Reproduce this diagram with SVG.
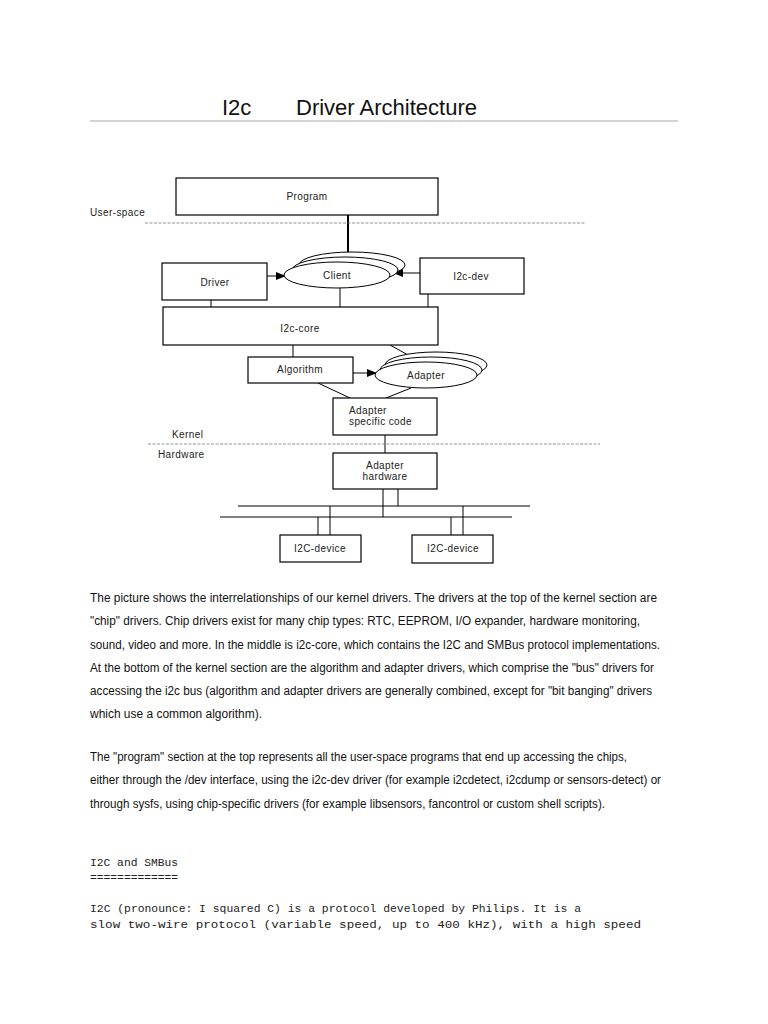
<svg xmlns="http://www.w3.org/2000/svg" width="768" height="1024" viewBox="0 0 768 1024">
<defs>
<marker id="ah" markerWidth="10" markerHeight="8" refX="9" refY="4" orient="auto" markerUnits="userSpaceOnUse">
<path d="M0,0 L10,4 L0,8 Z" fill="#000"/>
</marker>
<style>
.box{fill:#fff;stroke:#000;stroke-width:1.2}
.ell{fill:#fff;stroke:#000;stroke-width:1}
.lbl{font-family:"Liberation Sans",Arial,sans-serif;font-size:10px;fill:#222;letter-spacing:0.4px}
.ln{stroke:#000;stroke-width:1;fill:none}
.thick{stroke:#000;stroke-width:2;fill:none}
.dash{stroke:#777;stroke-width:0.8;stroke-dasharray:3,1.5;fill:none}
.body{font-family:"Liberation Sans",Arial,sans-serif;font-size:12.5px;fill:#111}
.mono{font-family:"Liberation Mono","Courier New",monospace;font-size:11.3px;fill:#222}
.title{font-family:"Liberation Sans",Arial,sans-serif;font-size:22px;fill:#111}
</style>
</defs>
<rect width="768" height="1024" fill="#fff"/>

<g id="title">
<text class="title" x="222" y="115">I2c</text>
<text class="title" x="296" y="115">Driver Architecture</text>
<line x1="90" y1="121" x2="678" y2="121" stroke="#aaa" stroke-width="1"/>
</g>

<g id="connectors">
<line class="thick" x1="348" y1="215" x2="348" y2="252"/>
<line class="ln" x1="267" y1="276" x2="285" y2="276" marker-end="url(#ah)"/>
<line class="ln" x1="420" y1="273" x2="394" y2="273" marker-end="url(#ah)"/>
<line class="ln" x1="211" y1="300" x2="211" y2="307"/>
<line class="ln" x1="340" y1="288" x2="340" y2="307"/>
<line class="ln" x1="428" y1="294" x2="428" y2="307"/>
<line class="ln" x1="293" y1="345" x2="293" y2="357"/>
<line class="ln" x1="390" y1="345" x2="408" y2="355"/>
<line class="ln" x1="353" y1="373" x2="376" y2="373" marker-end="url(#ah)"/>
<line class="ln" x1="318" y1="383" x2="350" y2="398"/>
<line class="ln" x1="411" y1="388" x2="386" y2="398"/>
<line class="ln" x1="385" y1="435" x2="385" y2="453"/>
<line class="ln" x1="383" y1="489" x2="383" y2="517"/>
<line class="ln" x1="398" y1="489" x2="398" y2="506"/>
<line class="ln" x1="238" y1="506" x2="530" y2="506"/>
<line class="ln" x1="220" y1="517" x2="512" y2="517"/>
<line class="ln" x1="318" y1="517" x2="318" y2="535"/>
<line class="ln" x1="330" y1="506" x2="330" y2="535"/>
<line class="ln" x1="451" y1="517" x2="451" y2="535"/>
<line class="ln" x1="463" y1="506" x2="463" y2="535"/>
</g>

<g id="zones">
<text class="lbl" x="90" y="216">User-space</text>
<line class="dash" x1="145" y1="223" x2="585" y2="223"/>
<text class="lbl" x="172" y="438">Kernel</text>
<line class="dash" x1="148" y1="444" x2="600" y2="444"/>
<text class="lbl" x="158" y="458">Hardware</text>
</g>

<g id="program">
<rect class="box" x="176" y="178" width="262" height="37"/>
<text class="lbl" x="307" y="200" text-anchor="middle">Program</text>
</g>

<g id="client">
<ellipse class="ell" cx="352" cy="265" rx="53" ry="13"/>
<ellipse class="ell" cx="345" cy="270" rx="53" ry="13"/>
<ellipse class="ell" cx="337" cy="275" rx="53" ry="13"/>
<text class="lbl" x="337" y="279" text-anchor="middle">Client</text>
</g>

<g id="driver">
<rect class="box" x="162" y="263" width="105" height="37"/>
<text class="lbl" x="215" y="286" text-anchor="middle">Driver</text>
</g>

<g id="i2c-dev">
<rect class="box" x="420" y="258" width="104" height="36"/>
<text class="lbl" x="471" y="280" text-anchor="middle">I2c-dev</text>
</g>

<g id="i2c-core">
<rect class="box" x="163" y="307" width="275" height="38"/>
<text class="lbl" x="300" y="332" text-anchor="middle">I2c-core</text>
</g>

<g id="algorithm">
<rect class="box" x="248" y="357" width="105" height="26"/>
<text class="lbl" x="300" y="373" text-anchor="middle">Algorithm</text>
</g>

<g id="adapter">
<ellipse class="ell" cx="436" cy="365" rx="51" ry="13"/>
<ellipse class="ell" cx="431" cy="370" rx="51" ry="13"/>
<ellipse class="ell" cx="426" cy="375" rx="51" ry="13"/>
<text class="lbl" x="426" y="379" text-anchor="middle">Adapter</text>
</g>

<g id="adapter-specific-code">
<rect class="box" x="333" y="398" width="104" height="37"/>
<text class="lbl" x="349" y="414">Adapter</text>
<text class="lbl" x="349" y="425">specific code</text>
</g>

<g id="adapter-hardware">
<rect class="box" x="333" y="453" width="104" height="36"/>
<text class="lbl" x="385" y="469" text-anchor="middle">Adapter</text>
<text class="lbl" x="385" y="480" text-anchor="middle">hardware</text>
</g>

<g id="i2c-device-1">
<rect class="box" x="280" y="535" width="81" height="27"/>
<text class="lbl" x="320" y="552" text-anchor="middle">I2C-device</text>
</g>

<g id="i2c-device-2">
<rect class="box" x="412" y="535" width="81" height="28"/>
<text class="lbl" x="453" y="552" text-anchor="middle">I2C-device</text>
</g>

<g id="text">
<text class="body" x="90" y="602" textLength="567" lengthAdjust="spacingAndGlyphs">The picture shows the interrelationships of our kernel drivers. The drivers at the top of the kernel section are</text>
<text class="body" x="90" y="625" textLength="550" lengthAdjust="spacingAndGlyphs">"chip" drivers. Chip drivers exist for many chip types: RTC, EEPROM, I/O expander, hardware monitoring,</text>
<text class="body" x="90" y="649" textLength="570" lengthAdjust="spacingAndGlyphs">sound, video and more. In the middle is i2c-core, which contains the I2C and SMBus protocol implementations.</text>
<text class="body" x="90" y="672" textLength="564" lengthAdjust="spacingAndGlyphs">At the bottom of the kernel section are the algorithm and adapter drivers, which comprise the "bus" drivers for</text>
<text class="body" x="90" y="695" textLength="562" lengthAdjust="spacingAndGlyphs">accessing the i2c bus (algorithm and adapter drivers are generally combined, except for "bit banging" drivers</text>
<text class="body" x="90" y="718" textLength="172" lengthAdjust="spacingAndGlyphs">which use a common algorithm).</text>
<text class="body" x="90" y="761" textLength="537" lengthAdjust="spacingAndGlyphs">The "program" section at the top represents all the user-space programs that end up accessing the chips,</text>
<text class="body" x="90" y="784" textLength="571" lengthAdjust="spacingAndGlyphs">either through the /dev interface, using the i2c-dev driver (for example i2cdetect, i2cdump or sensors-detect) or</text>
<text class="body" x="90" y="808" textLength="515" lengthAdjust="spacingAndGlyphs">through sysfs, using chip-specific drivers (for example libsensors, fancontrol or custom shell scripts).</text>
<text class="mono" x="90" y="866">I2C and SMBus</text>
<text class="mono" x="90" y="881">=============</text>
<text class="mono" x="90" y="912" textLength="491" lengthAdjust="spacingAndGlyphs">I2C (pronounce: I squared C) is a protocol developed by Philips. It is a</text>
<text class="mono" x="90" y="928" textLength="551" lengthAdjust="spacingAndGlyphs">slow two-wire protocol (variable speed, up to 400 kHz), with a high speed</text>
</g>
</svg>
